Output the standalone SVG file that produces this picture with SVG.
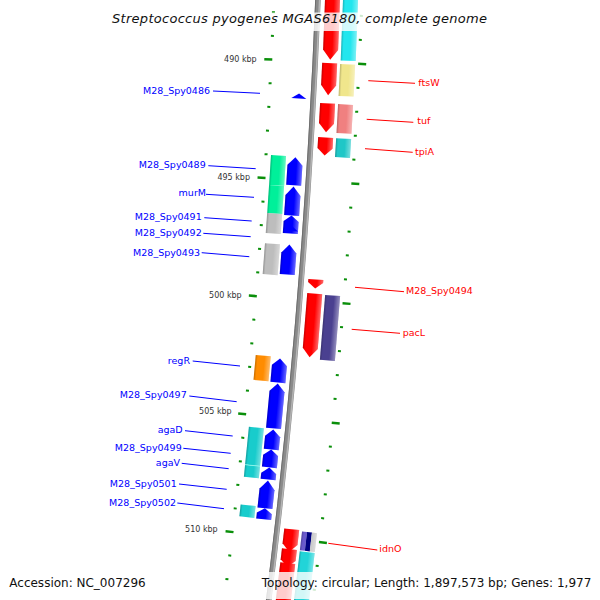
<svg xmlns="http://www.w3.org/2000/svg" width="600" height="600" viewBox="0 0 600 600">
<style>
text{font-family:"DejaVu Sans","Liberation Sans",sans-serif}
.lb{font-size:9.5px;fill:#0000ff;text-anchor:end}
.lr{font-size:9.5px;fill:#ff0000}
.kl{font-size:8px;fill:#333;text-anchor:end}
.cb{stroke:#0000ff;stroke-width:1;fill:none}
.cr{stroke:#ff0000;stroke-width:1;fill:none}
.tk{fill:#0a8f0a}
.sh{fill:url(#sh)}
.fw{fill:#0000ff}
.rv{fill:#ff0000}
.bg{fill:#fff;fill-opacity:0.8}
</style>
<defs>
<linearGradient id="sh" x1="0" y1="0" x2="1" y2="0">
<stop offset="0" stop-color="#000" stop-opacity="0.22"/>
<stop offset="0.15" stop-color="#000" stop-opacity="0"/>
<stop offset="0.6" stop-color="#fff" stop-opacity="0"/>
<stop offset="1" stop-color="#fff" stop-opacity="0.4"/>
</linearGradient>
<g id="tm"><rect x="7130.5" y="-1" width="3" height="2"/><rect x="7218.5" y="-1" width="3" height="2"/></g>
<g id="tM"><rect x="7125" y="-1.25" width="8" height="2.5"/><rect x="7219" y="-1.25" width="8" height="2.5"/></g>
</defs>
<rect width="600" height="600" fill="#fff"/>

<g id="ticks" class="tk" transform="translate(-6852.3 -287)">
<use href="#tm" transform="rotate(2.4044)"/>
<use href="#tm" transform="rotate(2.5949)"/>
<use href="#tM" transform="rotate(2.7853)"/>
<use href="#tm" transform="rotate(2.9757)"/>
<use href="#tm" transform="rotate(3.1662)"/>
<use href="#tm" transform="rotate(3.3566)"/>
<use href="#tm" transform="rotate(3.5471)"/>
<use href="#tM" transform="rotate(3.7375)"/>
<use href="#tm" transform="rotate(3.9279)"/>
<use href="#tm" transform="rotate(4.1184)"/>
<use href="#tm" transform="rotate(4.3088)"/>
<use href="#tm" transform="rotate(4.4993)"/>
<use href="#tM" transform="rotate(4.6897)"/>
<use href="#tm" transform="rotate(4.8801)"/>
<use href="#tm" transform="rotate(5.0706)"/>
<use href="#tm" transform="rotate(5.2610)"/>
<use href="#tm" transform="rotate(5.4515)"/>
<use href="#tM" transform="rotate(5.6419)"/>
<use href="#tm" transform="rotate(5.8323)"/>
<use href="#tm" transform="rotate(6.0228)"/>
<use href="#tm" transform="rotate(6.2132)"/>
<use href="#tm" transform="rotate(6.4037)"/>
<use href="#tM" transform="rotate(6.5941)"/>
<use href="#tm" transform="rotate(6.7845)"/>
<use href="#tm" transform="rotate(6.9750)"/>
</g>
<g id="tick-labels">
<text class="kl" x="256.7" y="61.7">490 kbp</text>
<text class="kl" x="250" y="180">495 kbp</text>
<text class="kl" x="241.7" y="297.7">500 kbp</text>
<text class="kl" x="231.7" y="414.3">505 kbp</text>
<text class="kl" x="217.7" y="531.7">510 kbp</text>
</g>

<g id="backbone" fill="none">
<circle cx="-6852.3" cy="-287" r="7176" stroke="#8a8a8a" stroke-width="5.5"/>
<circle cx="-6852.3" cy="-287" r="7177.6" stroke="#b5b5b5" stroke-width="1.5"/>
<circle cx="-6852.3" cy="-287" r="7173.8" stroke="#6e6e6e" stroke-width="1"/>
</g>

<!-- reverse strand genes (right) -->
<g id="gene-r1"><g transform="translate(-6852.3 -287) rotate(2.1723) translate(7176 0)">
<path class="rv" d="M7 0H22V64.3L14.5 74.3L7 64.3Z"/><path class="sh" d="M7 0H22V64.3L14.5 74.3L7 64.3Z"/>
<rect x="25" y="0" width="15" height="74.5" fill="#22e6ee"/><rect class="sh" x="25" y="0" width="15" height="74.5"/>
</g></g>
<g id="gene-ftsW"><g transform="translate(-6852.3 -287) rotate(2.7917) translate(7176 0)">
<path class="rv" d="M7 0H22V22L14.5 32L7 22Z"/><path class="sh" d="M7 0H22V22L14.5 32L7 22Z"/>
<rect x="25" y="0.2" width="15" height="32" fill="#f0e68c"/><rect class="sh" x="25" y="0.2" width="15" height="32"/>
</g><text class="lr" x="418.3" y="85.7">ftsW</text></g>
<g id="gene-tuf"><g transform="translate(-6852.3 -287) rotate(3.1123) translate(7176 0)">
<path class="rv" d="M7 0H22V20L14.5 29L7 20Z"/><path class="sh" d="M7 0H22V20L14.5 29L7 20Z"/>
<rect x="25" y="0.1" width="15" height="29" fill="#f08080"/><rect class="sh" x="25" y="0.1" width="15" height="29"/>
</g><text class="lr" x="417.3" y="124.3">tuf</text></g>
<g id="gene-tpiA"><g transform="translate(-6852.3 -287) rotate(3.3840) translate(7176 0)">
<path class="rv" d="M7 0H22V11L14.5 18L7 11Z"/><path class="sh" d="M7 0H22V11L14.5 18L7 11Z"/>
<rect x="25" y="0.1" width="15" height="19" fill="#1fc7c7"/><rect class="sh" x="25" y="0.1" width="15" height="19"/>
</g><text class="lr" x="415" y="155">tpiA</text></g>
<g id="gene-M28_Spy0494"><g transform="translate(-6852.3 -287) rotate(4.5187) translate(7176 0)">
<path class="rv" d="M7 0H22V3L14.5 9L7 3Z"/><path class="sh" d="M7 0H22V3L14.5 9L7 3Z"/>
</g><text class="lr" x="406" y="294.3">M28_Spy0494</text></g>
<g id="gene-pacL"><g transform="translate(-6852.3 -287) rotate(4.6309) translate(7176 0)">
<path class="rv" d="M7 0H22V55L14.5 64L7 55Z"/><path class="sh" d="M7 0H22V55L14.5 64L7 55Z"/>
<rect x="25" y="0.5" width="15" height="65" fill="#4a4090"/><rect class="sh" x="25" y="0.5" width="15" height="65"/>
</g><text class="lr" x="402.7" y="336">pacL</text></g>
<g id="gene-idnO"><g transform="translate(-6852.3 -287) rotate(6.5181) translate(7176 0)">
<path class="rv" d="M7 0H22V15L14.5 23L7 15Z"/><path class="sh" d="M7 0H22V15L14.5 23L7 15Z"/>
<rect x="25" y="1" width="5" height="19" fill="#6a5acd"/><rect x="30" y="1" width="5" height="19" fill="#000080"/><rect x="35" y="1" width="5" height="19" fill="#c4c4c4"/><rect class="sh" x="25" y="1" width="15" height="19"/>
</g><text class="lr" x="379.3" y="552.3">idnO</text></g>
<g id="gene-r8"><g transform="translate(-6852.3 -287) rotate(6.6784) translate(7176 0)">
<path class="rv" d="M7 0H22V11L14.5 18L7 11Z"/><path class="sh" d="M7 0H22V11L14.5 18L7 11Z"/>
<rect x="25" y="0.7" width="15" height="72" fill="#22d4d8"/><rect class="sh" x="25" y="0.7" width="15" height="72"/>
</g></g>
<g id="gene-r9"><g transform="translate(-6852.3 -287) rotate(6.7906) translate(7176 0)">
<path class="rv" d="M7 0H22V51L14.5 60L7 51Z"/><path class="sh" d="M7 0H22V51L14.5 60L7 51Z"/>
</g></g>

<!-- forward strand genes (left) -->
<g id="gene-M28_Spy0486"><g transform="translate(-6852.3 -287) rotate(3.0458) translate(7176 0)">
<path class="fw" d="M-22 5L-14.5 0L-7 5Z"/>
</g><text class="lb" x="210" y="94">M28_Spy0486</text></g>
<g id="gene-M28_Spy0489"><g transform="translate(-6852.3 -287) rotate(3.5570) translate(7176 0)">
<path class="fw" d="M-22 8L-14.5 0L-7 8V28H-22Z"/><path class="sh" d="M-22 8L-14.5 0L-7 8V28H-22Z"/>
<rect x="-39" y="-0.8" width="15" height="30" fill="#00f09a"/><rect class="sh" x="-39" y="-0.8" width="15" height="30"/>
</g><text class="lb" x="205.7" y="167.7">M28_Spy0489</text></g>
<g id="gene-murM"><g transform="translate(-6852.3 -287) rotate(3.7911) translate(7176 0)">
<path class="fw" d="M-22 9L-14.5 0L-7 9V29H-22Z"/><path class="sh" d="M-22 9L-14.5 0L-7 9V29H-22Z"/>
<rect x="-39" y="0.2" width="15" height="28.1" fill="#00f09a"/><rect class="sh" x="-39" y="0.2" width="15" height="28.1"/>
</g><text class="lb" x="206" y="196">murM</text></g>
<g id="gene-M28_Spy0491"><g transform="translate(-6852.3 -287) rotate(4.0242) translate(7176 0)">
<path class="fw" d="M-22 6L-14.5 0L-7 6V18H-22Z"/><path class="sh" d="M-22 6L-14.5 0L-7 6V18H-22Z"/>
<rect x="-39" y="-0.8" width="15" height="20" fill="#bdbdbd"/><rect class="sh" x="-39" y="-0.8" width="15" height="20"/>
</g><text class="lb" x="201.7" y="220">M28_Spy0491</text></g>
<g id="gene-M28_Spy0492"><g transform="translate(-6852.3 -287) rotate(4.1005) translate(7176 0)">
<path class="fw" d="M-22 6L-14.5 0L-7 6Z"/>
</g><text class="lb" x="201.7" y="235.7">M28_Spy0492</text></g>
<g id="gene-M28_Spy0493"><g transform="translate(-6852.3 -287) rotate(4.2566) translate(7176 0)">
<path class="fw" d="M-22 8.5L-14.5 0L-7 8.5V30H-22Z"/><path class="sh" d="M-22 8.5L-14.5 0L-7 8.5V30H-22Z"/>
<rect x="-39" y="0.4" width="15" height="31" fill="#bdbdbd"/><rect class="sh" x="-39" y="0.4" width="15" height="31"/>
</g><text class="lb" x="200" y="255.7">M28_Spy0493</text></g>
<g id="gene-regR"><g transform="translate(-6852.3 -287) rotate(5.1718) translate(7176 0)">
<path class="fw" d="M-22 7L-14.5 0L-7 7V24H-22Z"/><path class="sh" d="M-22 7L-14.5 0L-7 7V24H-22Z"/>
<rect x="-39" y="-1.4" width="15" height="25" fill="#ff8c00"/><rect class="sh" x="-39" y="-1.4" width="15" height="25"/>
</g><text class="lb" x="190" y="364">regR</text></g>
<g id="gene-M28_Spy0497"><g transform="translate(-6852.3 -287) rotate(5.3729) translate(7176 0)">
<path class="fw" d="M-22 8L-14.5 0L-7 8V45H-22Z"/><path class="sh" d="M-22 8L-14.5 0L-7 8V45H-22Z"/>
</g><text class="lb" x="186.7" y="398.3">M28_Spy0497</text></g>
<g id="gene-agaD"><g transform="translate(-6852.3 -287) rotate(5.7424) translate(7176 0)">
<path class="fw" d="M-22 7L-14.5 0L-7 7V20H-22Z"/><path class="sh" d="M-22 7L-14.5 0L-7 7V20H-22Z"/>
<rect x="-39" y="-0.3" width="15" height="38" fill="#18cccc"/><rect class="sh" x="-39" y="-0.3" width="15" height="38"/>
<rect x="-39" y="37.9" width="15" height="12" fill="#18cccc"/><rect class="sh" x="-39" y="37.9" width="15" height="12"/>
<path d="M-39 37.8H-24" stroke="#9fe" stroke-width="0.6"/>
</g><text class="lb" x="182.7" y="433.3">agaD</text></g>
<g id="gene-M28_Spy0499"><g transform="translate(-6852.3 -287) rotate(5.9027) translate(7176 0)">
<path class="fw" d="M-22 6L-14.5 0L-7 6V18H-22Z"/><path class="sh" d="M-22 6L-14.5 0L-7 6V18H-22Z"/>
</g><text class="lb" x="181.7" y="451">M28_Spy0499</text></g>
<g id="gene-agaV"><g transform="translate(-6852.3 -287) rotate(6.0477) translate(7176 0)">
<path class="fw" d="M-22 6L-14.5 0L-7 6V12H-22Z"/><path class="sh" d="M-22 6L-14.5 0L-7 6V12H-22Z"/>
</g><text class="lb" x="180" y="466">agaV</text></g>
<g id="gene-M28_Spy0501"><g transform="translate(-6852.3 -287) rotate(6.1519) translate(7176 0)">
<path class="fw" d="M-22 9L-14.5 0L-7 9V28H-22Z"/><path class="sh" d="M-22 9L-14.5 0L-7 9V28H-22Z"/>
</g><text class="lb" x="176.7" y="486.7">M28_Spy0501</text></g>
<g id="gene-M28_Spy0502"><g transform="translate(-6852.3 -287) rotate(6.3762) translate(7176 0)">
<path class="fw" d="M-22 5L-14.5 0L-7 5V11H-22Z"/><path class="sh" d="M-22 5L-14.5 0L-7 5V11H-22Z"/>
<rect x="-39" y="-1.2" width="15" height="12" fill="#18cccc"/><rect class="sh" x="-39" y="-1.2" width="15" height="12"/>
</g><text class="lb" x="176" y="505.7">M28_Spy0502</text></g>

<g id="connectors">
<path class="cb" d="M213 91L260 93.3"/>
<path class="cb" d="M208.3 165.7L255.7 168.7"/>
<path class="cb" d="M206 194.3L254 197.3"/>
<path class="cb" d="M204.3 217.7L251.7 221"/>
<path class="cb" d="M203.3 233.3L250.7 236.7"/>
<path class="cb" d="M201.7 252.7L249.3 256.7"/>
<path class="cb" d="M192.7 361L240 366"/>
<path class="cb" d="M189.3 396L236.7 401.7"/>
<path class="cb" d="M185 430.7L232.7 436"/>
<path class="cb" d="M183.3 448.3L230.7 453.3"/>
<path class="cb" d="M181.7 463.3L228.7 468.7"/>
<path class="cb" d="M179 484L226.7 489.3"/>
<path class="cb" d="M177.3 503L224 508.7"/>
<path class="cr" d="M368.3 80.7L415 83.3"/>
<path class="cr" d="M366.7 119.3L413.3 122.3"/>
<path class="cr" d="M365 148.7L412.7 152.3"/>
<path class="cr" d="M355 287.3L404 291.7"/>
<path class="cr" d="M351.7 329.3L400 333.3"/>
<path class="cr" d="M328.3 543.3L377.3 550"/>
</g>

<g id="title">
<rect class="bg" x="108" y="12.5" width="384" height="18.5"/>
<text x="112" y="23" font-size="13" font-style="italic" textLength="375" lengthAdjust="spacing" fill="#111">Streptococcus pyogenes MGAS6180, complete genome</text>
</g>
<g id="footer">
<text x="9.3" y="587" font-size="12" fill="#111">Accession: NC_007296</text>
<rect class="bg" x="257" y="572" width="338" height="27"/>
<text x="261.7" y="586.7" font-size="12" fill="#111">Topology: circular; Length: 1,897,573 bp; Genes: 1,977</text>
</g>
</svg>
